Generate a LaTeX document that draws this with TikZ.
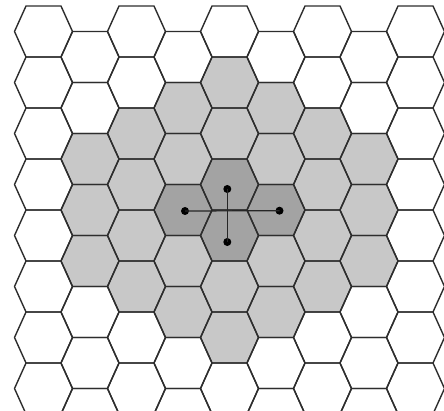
\documentclass[tikz,border=0pt]{standalone}
\usetikzlibrary{calc}
\definecolor{cellline}{RGB}{45,45,45}
\definecolor{lightcell}{RGB}{200,200,200}
\definecolor{darkcell}{RGB}{163,163,163}
\tikzset{
  hexline/.style={draw=cellline, line width=1.4pt, line join=round},
  dotnode/.style={circle, fill=black, inner sep=0pt, minimum size=8pt},
  linkline/.style={draw=black!85, line width=1.2pt}
}
\newcommand{\hexpath}{(-29,0) -- (-17.5,25.5) -- (17.5,25.5) -- (29,0) -- (17.5,-25.5) -- (-17.5,-25.5) -- cycle}
\newcommand{\hexat}[3]{%
  \pgfmathsetmacro{\hcx}{43.5+46.5*#1}%
  \pgfmathsetmacro{\hcy}{410-(31.5+51*#2+25.5*mod(#1,2))}%
  \path[#3, shift={(\hcx pt,\hcy pt)}] \hexpath;%
}
\begin{document}
\begin{tikzpicture}[x=1pt,y=1pt]
  \useasboundingbox (0,0) rectangle (444,410);
  \fill[white] (0,0) rectangle (444,410);
  \begin{scope}
    \clip (0,0) rectangle (444,410);
    % light gray region
    \foreach \k/\a/\b in {1/2/4,2/2/5,3/1/5,4/1/6,5/1/5,6/2/5,7/2/4}{
      \foreach \j in {\a,...,\b}{\hexat{\k}{\j}{fill=lightcell}}
    }
    % dark cluster
    \foreach \k/\j in {3/3,4/3,4/4,5/3}{\hexat{\k}{\j}{fill=darkcell}}
    % outlines
    \foreach \k in {0,...,8}{
      \foreach \j in {0,...,7}{\hexat{\k}{\j}{hexline}}
    }
  \end{scope}
  % dots and connectors
  \node[dotnode] (dt) at (227.3,221) {};
  \node[dotnode] (db) at (227.3,168) {};
  \node[dotnode] (dl) at (185,199) {};
  \node[dotnode] (dr) at (279.5,199.3) {};
  \draw[linkline] (dl.center) -- (dr.center);
  \draw[linkline] (dt.center) -- (db.center);
\end{tikzpicture}
\end{document}
